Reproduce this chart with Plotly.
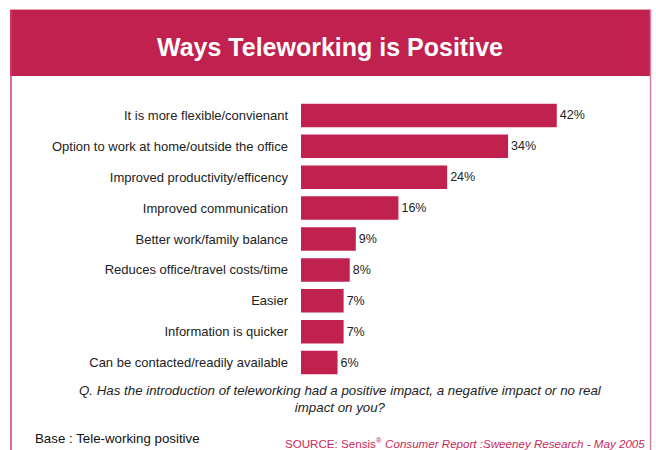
import plotly.graph_objects as go

# Survey responses (percent of respondents), listed top to bottom
categories = [
    "It is more flexible/convienant",
    "Option to work at home/outside the office",
    "Improved productivity/efficency",
    "Improved communication",
    "Better work/family balance",
    "Reduces office/travel costs/time",
    "Easier",
    "Information is quicker",
    "Can be contacted/readily available",
]
values = [42, 34, 24, 16, 9, 8, 7, 7, 6]

title_text = "Ways Teleworking is Positive"
question_text = ("<i>Q. Has the introduction of teleworking had a positive impact, "
                 "a negative impact or no real<br>impact on you?</i>")
base_text = "Base : Tele-working positive"
source_text = ("SOURCE: Sensis<sup>®</sup> <i>Consumer Report :Sweeney Research - "
               "May 2005</i>")

CRIMSON = "#C1214E"
W, H = 656, 450
ML, MR, MT, MB = 301, 16, 100, 72
PW, PH = W - ML - MR, H - MT - MB


def px(x):
    return (x - ML) / PW


def py(y):
    return (H - MB - y) / PH


fig = go.Figure(
    go.Bar(
        x=values,
        y=categories,
        orientation="h",
        marker=dict(color=CRIMSON, line=dict(width=0)),
        texttemplate="%{x}%",
        textposition="outside",
        textfont=dict(family="Liberation Sans, Arial", size=12.5, color="#222222"),
        cliponaxis=False,
        width=0.76,
    )
)

fig.update_layout(
    width=W,
    height=H,
    margin=dict(l=ML, r=MR, t=MT, b=MB),
    paper_bgcolor="white",
    plot_bgcolor="white",
    showlegend=False,
    font=dict(family="Liberation Sans, Arial", color="#222222"),
    xaxis=dict(range=[0, PW / 6.09], visible=False, fixedrange=True),
    yaxis=dict(
        categoryorder="array",
        categoryarray=categories[::-1],
        range=[-0.5, len(categories) - 0.5],
        showgrid=False,
        showline=False,
        zeroline=False,
        ticks="",
        ticklabelstandoff=12,
        tickfont=dict(family="Liberation Sans, Arial", size=13, color="#222222"),
    ),
    shapes=[
        # header band
        dict(type="rect", xref="paper", yref="paper",
             x0=px(10), x1=px(651), y0=py(76), y1=py(10),
             fillcolor=CRIMSON, line=dict(width=0), layer="below"),
        # thin outline above the band
        dict(type="line", xref="paper", yref="paper",
             x0=px(10), x1=px(651), y0=py(9.5), y1=py(9.5),
             line=dict(color="#E6A3B6", width=1)),
        # left frame edge
        dict(type="line", xref="paper", yref="paper",
             x0=px(11), x1=px(11), y0=py(10), y1=py(452),
             line=dict(color="#D23C68", width=1.5)),
        # right frame edge
        dict(type="line", xref="paper", yref="paper",
             x0=px(650.5), x1=px(650.5), y0=py(10), y1=py(452),
             line=dict(color="#D97B97", width=1.5)),
    ],
    annotations=[
        dict(text=f"<b>{title_text}</b>", xref="paper", yref="paper",
             x=px(330), y=py(47), xanchor="center", yanchor="middle",
             showarrow=False,
             font=dict(family="Liberation Sans Narrow, Liberation Sans, Arial",
                       size=25, color="white")),
        dict(text=question_text, xref="paper", yref="paper",
             x=px(340), y=py(399), xanchor="center", yanchor="middle",
             showarrow=False, align="center",
             font=dict(family="Liberation Sans, Arial", size=13.3, color="#222222")),
        dict(text=base_text, xref="paper", yref="paper",
             x=px(33), y=py(438), xanchor="left", yanchor="middle",
             showarrow=False,
             font=dict(family="Liberation Sans, Arial", size=13.3, color="#111111")),
        dict(text=source_text, xref="paper", yref="paper",
             x=px(647), y=py(443), xanchor="right", yanchor="middle",
             showarrow=False,
             font=dict(family="Liberation Sans, Arial", size=11.6, color="#C8285A")),
    ],
)

fig.write_html("out.html")
